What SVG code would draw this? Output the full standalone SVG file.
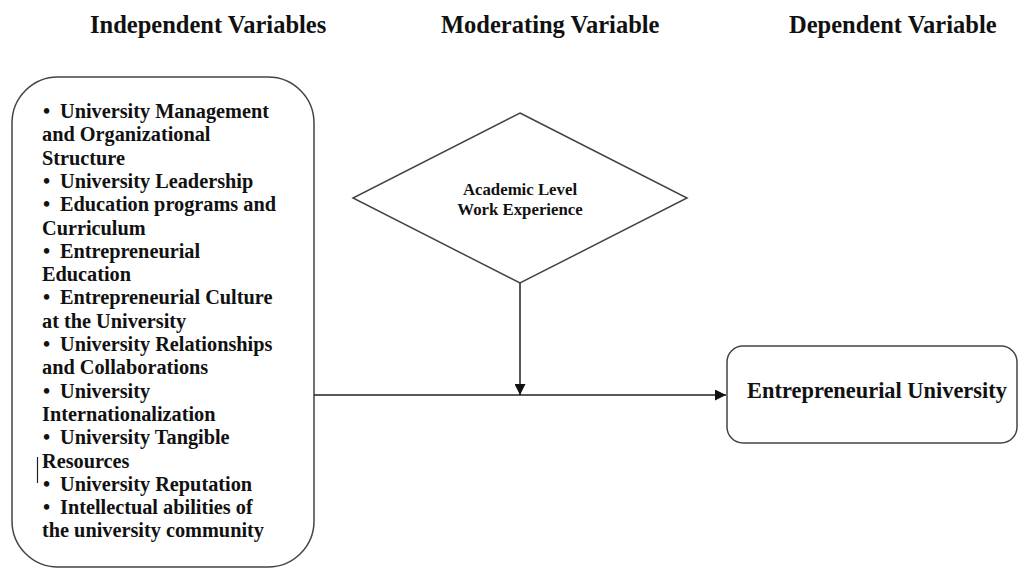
<svg xmlns="http://www.w3.org/2000/svg" width="1019" height="569" viewBox="0 0 1019 569">
  <style>
    .hdr { font-family: "Liberation Serif", "Times New Roman", serif; font-weight: bold; font-size: 24.5px; fill: #111; }
    .lst { font-family: "Liberation Serif", "Times New Roman", serif; font-weight: bold; font-size: 20.3px; fill: #111; }
    .dia { font-family: "Liberation Serif", "Times New Roman", serif; font-weight: bold; font-size: 16.8px; fill: #111; text-anchor: middle; }
    .dep { font-family: "Liberation Serif", "Times New Roman", serif; font-weight: bold; font-size: 22.4px; fill: #111; text-anchor: middle; }
    .box { fill: #fff; stroke: #444; stroke-width: 1.5; }
    .edge { fill: none; stroke: #222; stroke-width: 1.5; }
  </style>
  <defs>
    <marker id="arrow" viewBox="0 0 10 10" refX="10" refY="5" markerWidth="11" markerHeight="11" markerUnits="userSpaceOnUse" orient="auto">
      <path d="M0,0 L10,5 L0,10 Z" fill="#111"/>
    </marker>
  </defs>
  <rect width="1019" height="569" fill="#fff"/>

  <!-- column headings -->
  <g id="headings">
    <text class="hdr" x="90" y="33">Independent Variables</text>
    <text class="hdr" x="441" y="33">Moderating Variable</text>
    <text class="hdr" x="789" y="33">Dependent Variable</text>
  </g>

  <!-- independent variables list: bullets at 43, wrapped text at 42 -->
  <g id="independent">
    <rect class="box" x="12" y="77" width="302" height="490" rx="46" ry="46"/>
    <text class="lst">
      <tspan x="43" y="118">•</tspan><tspan x="60">University Management</tspan>
      <tspan x="42" y="141.3">and Organizational</tspan>
      <tspan x="42" y="164.6">Structure</tspan>
      <tspan x="43" y="187.9">•</tspan><tspan x="60">University Leadership</tspan>
      <tspan x="43" y="211.2">•</tspan><tspan x="60">Education programs and</tspan>
      <tspan x="42" y="234.5">Curriculum</tspan>
      <tspan x="43" y="257.8">•</tspan><tspan x="60">Entrepreneurial</tspan>
      <tspan x="42" y="281.1">Education</tspan>
      <tspan x="43" y="304.4">•</tspan><tspan x="60">Entrepreneurial Culture</tspan>
      <tspan x="42" y="327.7">at the University</tspan>
      <tspan x="43" y="351">•</tspan><tspan x="60">University Relationships</tspan>
      <tspan x="42" y="374.3">and Collaborations</tspan>
      <tspan x="43" y="397.6">•</tspan><tspan x="60">University</tspan>
      <tspan x="42" y="420.9">Internationalization</tspan>
      <tspan x="43" y="444.2">•</tspan><tspan x="60">University Tangible</tspan>
      <tspan x="42" y="467.5">Resources</tspan>
      <tspan x="43" y="490.8">•</tspan><tspan x="60">University Reputation</tspan>
      <tspan x="43" y="514.1">•</tspan><tspan x="60">Intellectual abilities of</tspan>
      <tspan x="42" y="537.4">the university community</tspan>
    </text>
    <line x1="37.5" y1="457" x2="37.5" y2="483" stroke="#222" stroke-width="1.2"/>
  </g>

  <!-- moderating variable -->
  <g id="moderating">
    <polygon class="box" points="520,113 687,198 520,283 353,198"/>
    <text class="dia" x="520" y="195">Academic Level</text>
    <text class="dia" x="520" y="215">Work Experience</text>
  </g>

  <!-- dependent variable -->
  <g id="dependent">
    <rect class="box" x="727" y="346" width="290" height="97" rx="16" ry="16"/>
    <text class="dep" x="877" y="398">Entrepreneurial University</text>
  </g>

  <!-- connectors -->
  <g id="connectors">
    <line class="edge" x1="314" y1="395" x2="726" y2="395" marker-end="url(#arrow)"/>
    <line class="edge" x1="520" y1="283" x2="520" y2="395" marker-end="url(#arrow)"/>
  </g>
</svg>
